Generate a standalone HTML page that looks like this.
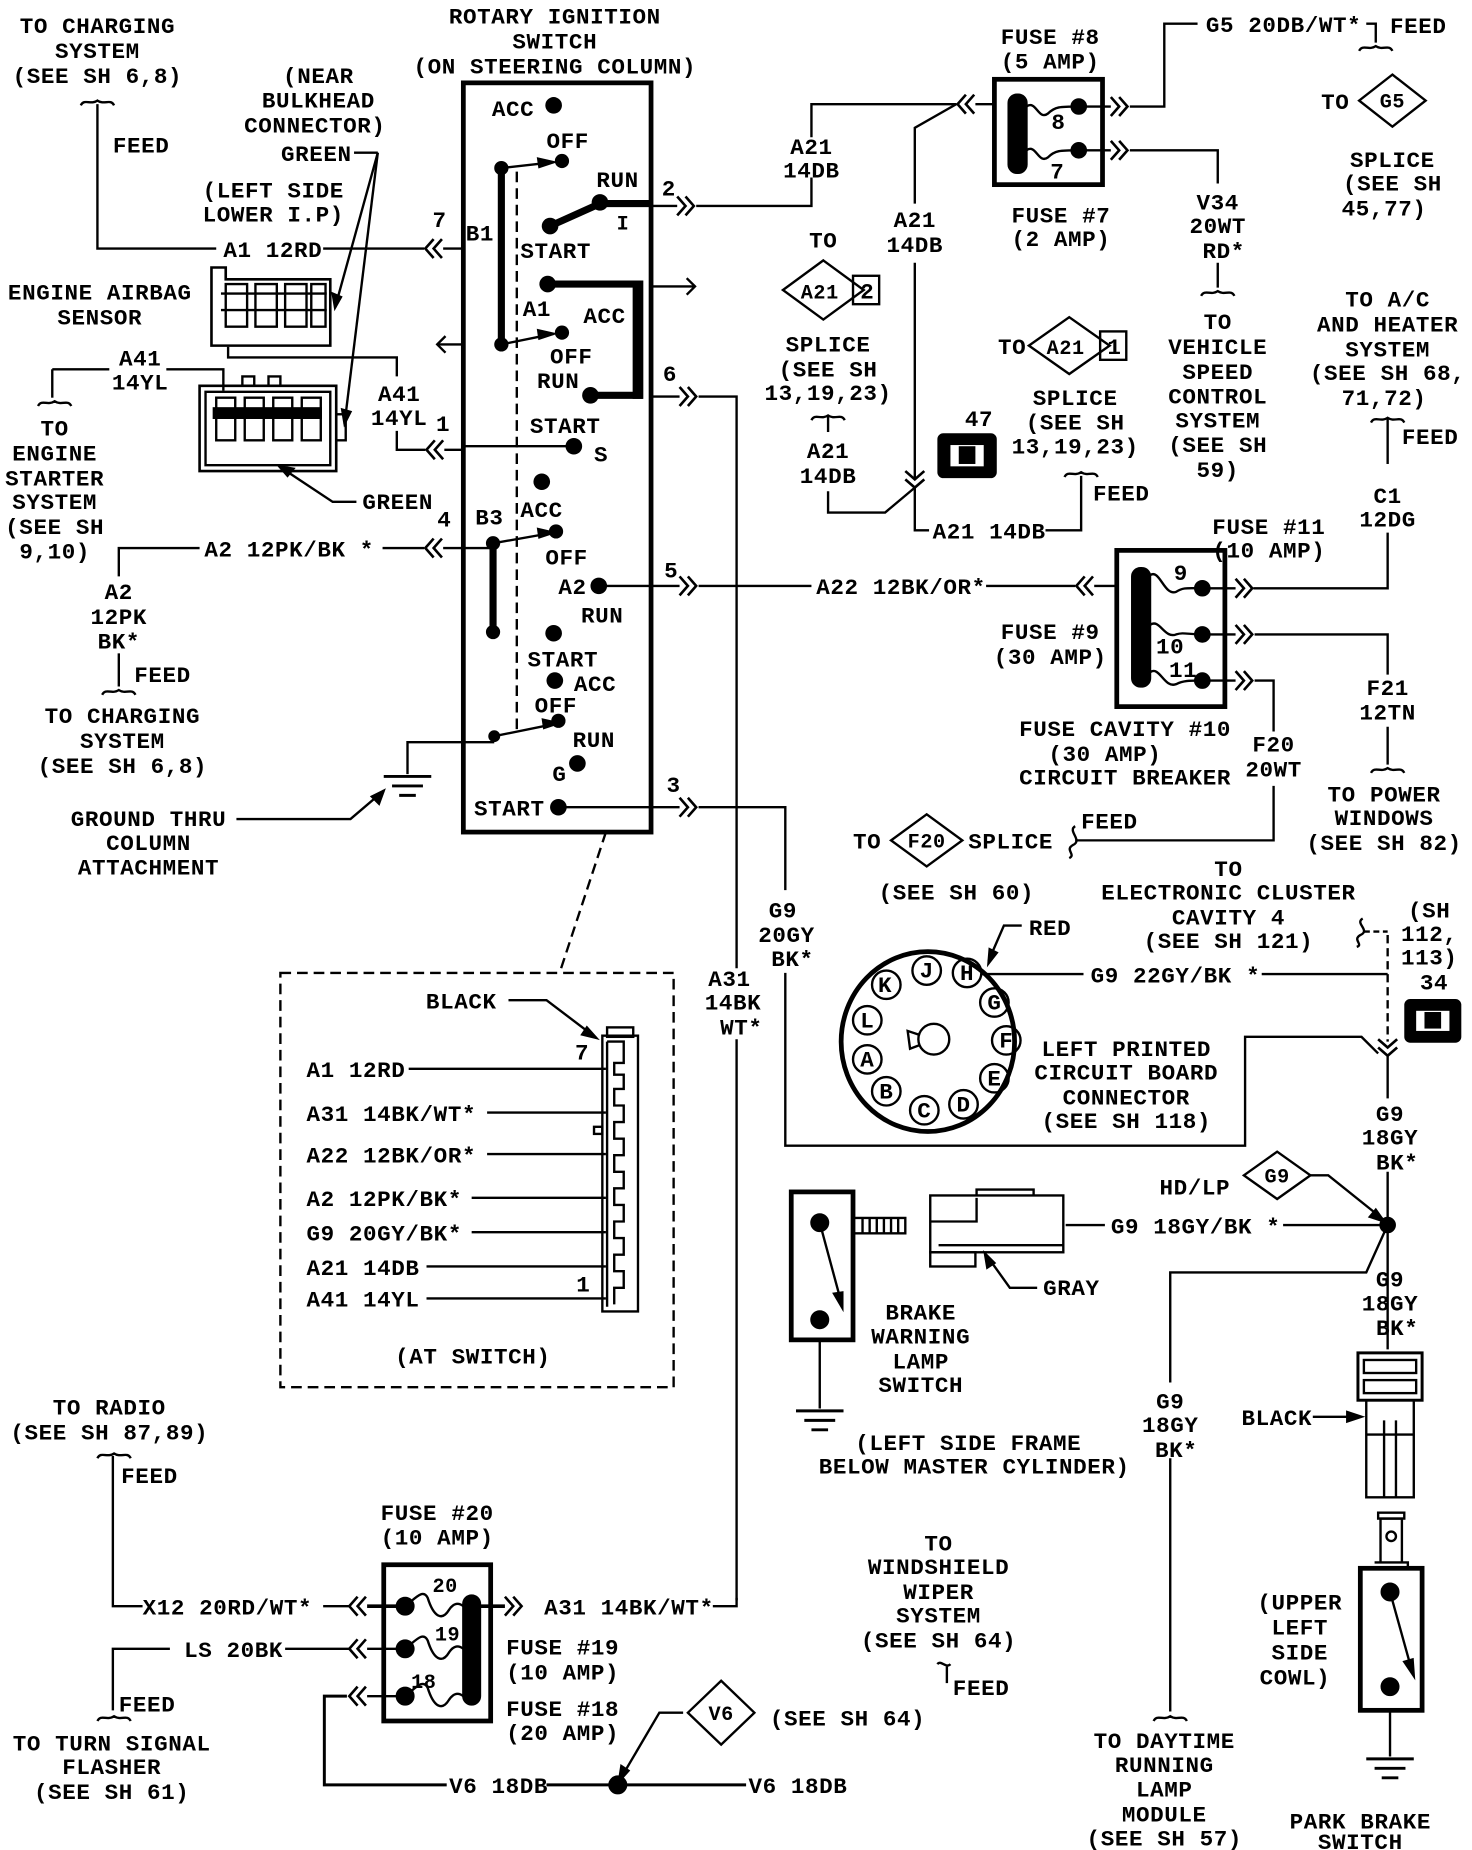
<!DOCTYPE html>
<html><head><meta charset="utf-8"><style>
html,body{margin:0;padding:0;background:#fff;}
svg{display:block;}
text{font-family:"Liberation Mono",monospace;font-size:19px;font-weight:bold;fill:#000;letter-spacing:0.5px;}
.m{text-anchor:middle;}
.e{text-anchor:end;}
</style></head><body>
<svg width="1472" height="1850" viewBox="0 0 1239 1563" preserveAspectRatio="none" xmlns="http://www.w3.org/2000/svg">
<defs>
<path id="cl" d="M7,-8 L0,0 L7,8 M14,-8 L7,0 L14,8" fill="none" stroke="#000" stroke-width="2.2"/>
<path id="cr" d="M0,-8 L7,0 L0,8 M7,-8 L14,0 L7,8" fill="none" stroke="#000" stroke-width="2.2"/>
<path id="cd" d="M-8,0 L0,7 L8,0 M-8,7 L0,14 L8,7" fill="none" stroke="#000" stroke-width="2.2"/>
<path id="tl" d="M-14,5 C-11,-1 -6,5 0,1 C6,5 11,-1 14,5" fill="none" stroke="#000" stroke-width="2"/>
<g id="gnd" stroke="#000" stroke-width="2.5"><line x1="-20" y1="0" x2="20" y2="0"/><line x1="-13" y1="8" x2="13" y2="8"/><line x1="-7" y1="16" x2="7" y2="16"/></g>
</defs>
<g fill="none" stroke="#000" stroke-width="2">

<!-- ===== left top ===== -->
<use href="#tl" x="82" y="84"/>
<polyline points="82,88 82,210 182,210"/>
<line x1="272" y1="210" x2="357" y2="210"/>
<use href="#cl" x="358" y="210"/>
<line x1="373" y1="210" x2="390" y2="210"/>
<!-- green leader -->
<line x1="298" y1="129" x2="318" y2="129"/>
<line x1="318" y1="129" x2="282" y2="260"/>
<line x1="318" y1="129" x2="290" y2="358"/>
<!-- connector 1 -->
<path d="M178,226 H190 V236 H278 V292 H178 Z" stroke-width="2.2"/>
<path d="M186,248 H275 M186,262 H275" />
<rect x="190" y="240" width="18" height="36"/><rect x="215" y="240" width="18" height="36"/><rect x="240" y="240" width="18" height="36"/><rect x="262" y="240" width="12" height="36"/>
<!-- A41 -->
<polyline points="192,293 192,302 334,302 334,318"/>
<polyline points="334,364 334,380 358,380"/>
<use href="#cl" x="359" y="380"/>
<line x1="374" y1="380" x2="390" y2="380"/>
<line x1="44" y1="312" x2="92" y2="312"/>
<polyline points="140,312 188,312 188,330"/>
<line x1="44" y1="312" x2="44" y2="336"/>
<use href="#tl" x="46" y="338"/>
<!-- connector 2 -->
<path d="M168,326 H283 V398 H168 Z" stroke-width="2.2"/>
<path d="M173,331 H278 V393 H173 Z"/>
<rect x="180" y="345" width="90" height="8" fill="#000"/>
<rect x="182" y="336" width="16" height="36"/><rect x="206" y="336" width="16" height="36"/><rect x="230" y="336" width="16" height="36"/><rect x="254" y="336" width="16" height="36"/>
<path d="M204,326 V318 H214 V326 M226,326 V318 H236 V326"/>
<rect x="283" y="350" width="8" height="22"/>
<!-- green lower -->
<polyline points="300,424 280,424 235,394"/>
<path d="M235,394 l12,2 -5,6 z" fill="#000"/>
<path d="M282,260 l-2,-12 7,3 z M290,358 l-2,-12 7,2 z" fill="#000"/>
<!-- single arrow left -->
<line x1="368" y1="291" x2="390" y2="291"/>
<path d="M375,284 L368,291 L375,298"/>
<!-- A2 -->
<polyline points="100,487 100,463 168,463"/>
<line x1="322" y1="463" x2="357" y2="463"/>
<use href="#cl" x="358" y="463"/>
<line x1="373" y1="463" x2="390" y2="463"/>
<line x1="100" y1="552" x2="100" y2="580"/>
<use href="#tl" x="100" y="582"/>
<!-- ground -->
<polyline points="416,627 343,627 343,654"/>
<use href="#gnd" x="343" y="656"/>
<polyline points="199,692 295,692 323,668"/>
<path d="M323,668 l-4,11 -6,-6 z" fill="#000"/>

<!-- ===== switch ===== -->
<rect x="390" y="70" width="158" height="633" stroke-width="4"/>
<line x1="435" y1="145" x2="435" y2="616" stroke-dasharray="9,5"/>
<line x1="422" y1="142" x2="422" y2="291" stroke-width="6"/>
<circle cx="422" cy="142" r="5" fill="#000"/><circle cx="422" cy="291" r="5" fill="#000"/>
<line x1="422" y1="142" x2="466" y2="137"/><path d="M466,137 l-13,-3 1,7 z" fill="#000"/>
<line x1="422" y1="291" x2="466" y2="282"/><path d="M466,282 l-13,-3 1,7 z" fill="#000"/>
<line x1="463" y1="191" x2="505" y2="172" stroke-width="6"/>
<line x1="505" y1="172" x2="548" y2="172" stroke-width="6"/>
<line x1="548" y1="174" x2="570" y2="174"/>
<use href="#cr" x="570" y="174"/>
<polyline points="586,174 683,174 683,150"/>
<polyline points="683,116 683,88 805,88"/>
<line x1="461" y1="240" x2="541" y2="240" stroke-width="6"/>
<line x1="537" y1="237" x2="537" y2="337" stroke-width="9"/>
<line x1="497" y1="334" x2="541" y2="334" stroke-width="6"/>
<line x1="548" y1="242" x2="585" y2="242"/>
<path d="M578,235 L585,242 L578,249"/>
<line x1="548" y1="335" x2="572" y2="335"/>
<use href="#cr" x="572" y="335"/>
<polyline points="588,335 620,335 620,818"/>
<line x1="620" y1="878" x2="620" y2="1352"/>
<line x1="390" y1="377" x2="483" y2="377"/>
<line x1="415" y1="456" x2="415" y2="534" stroke-width="6"/>
<circle cx="415" cy="459" r="5" fill="#000"/><circle cx="415" cy="534" r="5" fill="#000"/>
<line x1="390" y1="463" x2="415" y2="463"/>
<line x1="415" y1="459" x2="466" y2="450"/><path d="M466,450 l-13,-3 1,7 z" fill="#000"/>
<line x1="504" y1="495" x2="572" y2="495"/>
<use href="#cr" x="572" y="495"/>
<line x1="588" y1="495" x2="683" y2="495"/>
<line x1="830" y1="495" x2="905" y2="495"/>
<use href="#cl" x="906" y="495"/>
<line x1="921" y1="495" x2="940" y2="495"/>
<line x1="416" y1="622" x2="470" y2="611"/><path d="M470,611 l-13,-3 1,7 z" fill="#000"/>
<line x1="468" y1="682" x2="572" y2="682"/>
<use href="#cr" x="572" y="682"/>
<polyline points="588,682 661,682 661,752"/>
<polyline points="661,822 661,968 1048,968 1048,876 1146,876 1160,890"/>
<line x1="510" y1="703" x2="471" y2="822" stroke-dasharray="9,5"/>
<rect x="236" y="822" width="331" height="350" stroke-dasharray="9,5"/>

<!-- at switch connector -->
<polyline points="428,845 460,845 502,877"/>
<path d="M502,877 l-12,-3 4,-6 z" fill="#000"/>
<rect x="507" y="875" width="30" height="233" stroke-width="2"/>
<rect x="511" y="868" width="22" height="8"/>
<path d="M511,880 H525 V898 H517 V908 H525 V920 H517 V934 H525 V948 H517 V962 H525 V976 H517 V990 H525 V1004 H517 V1018 H525 V1032 H517 V1046 H525 V1060 H517 V1074 H525 V1088 H517 V1102"/>
<line x1="511" y1="880" x2="511" y2="1104"/>
<rect x="500" y="952" width="7" height="6"/>
<line x1="344" y1="903" x2="510" y2="903"/>
<line x1="410" y1="940" x2="510" y2="940"/>
<line x1="410" y1="975" x2="510" y2="975"/>
<line x1="397" y1="1012" x2="510" y2="1012"/>
<line x1="397" y1="1041" x2="510" y2="1041"/>
<line x1="359" y1="1070" x2="510" y2="1070"/>
<line x1="359" y1="1097" x2="510" y2="1097"/>

<!-- ===== top middle ===== -->
<use href="#cl" x="806" y="88"/>
<line x1="821" y1="88" x2="838" y2="88"/>
<polyline points="805,88 770,108 770,172"/>
<line x1="770" y1="222" x2="770" y2="404"/>
<use href="#cd" x="770" y="398"/>
<polyline points="770,412 770,448 782,448"/>
<polyline points="880,448 910,448 910,402"/>
<use href="#tl" x="910" y="398"/>
<polyline points="770,412 745,433 697,433 697,415"/>
<line x1="697" y1="352" x2="697" y2="365"/>
<use href="#tl" x="697" y="350"/>
<!-- fuse 8/7 -->
<rect x="837" y="67" width="91" height="89" stroke-width="4"/>
<rect x="849" y="80" width="15" height="66" rx="7" fill="#000"/>
<path d="M864,90 C872,84 874,102 882,96 C888,90 892,90 908,90"/>
<path d="M864,127 C872,121 874,139 882,133 C888,127 892,127 908,127"/>
<circle cx="908" cy="90" r="6" fill="#000"/><circle cx="908" cy="127" r="6" fill="#000"/>
<line x1="908" y1="90" x2="935" y2="90"/><use href="#cr" x="935" y="90"/>
<polyline points="951,90 980,90 980,20 1008,20"/>
<line x1="908" y1="127" x2="935" y2="127"/><use href="#cr" x="935" y="127"/>
<polyline points="951,127 1025,127 1025,155"/>
<line x1="1025" y1="222" x2="1025" y2="243"/>
<use href="#tl" x="1025" y="245"/>
<polyline points="1150,20 1158,20 1158,36"/>
<use href="#tl" x="1158" y="38"/>
<!-- splice diamonds -->
<path d="M693,220 L727,245 L693,270 L659,245 Z"/>
<rect x="718" y="233" width="22" height="24"/>
<path d="M900,268 L934,292 L900,316 L866,292 Z"/>
<rect x="926" y="280" width="22" height="24"/>
<path d="M1172,63 L1200,85 L1172,107 L1144,85 Z"/>
<!-- 47 connector -->
<rect x="790" y="367" width="48" height="36" rx="4" fill="#000"/>
<rect x="799" y="375" width="30" height="20" fill="#fff"/>
<rect x="808" y="378" width="12" height="13" fill="#000"/>
<!-- A/C -->
<use href="#tl" x="1168" y="352"/>
<line x1="1168" y1="354" x2="1168" y2="392"/>
<polyline points="1168,450 1168,497 1055,497"/>
<!-- fuse 9 -->
<rect x="940" y="465" width="91" height="132" stroke-width="4"/>
<rect x="953" y="480" width="15" height="100" rx="7" fill="#000"/>
<path d="M968,486 C976,480 980,504 990,500 C996,496 1000,497 1012,497"/>
<path d="M968,528 C976,522 980,540 990,536 C996,534 1000,536 1012,536"/>
<path d="M968,568 C976,562 980,582 990,578 C996,575 1000,575 1012,575"/>
<circle cx="1012" cy="497" r="6" fill="#000"/><circle cx="1012" cy="536" r="6" fill="#000"/><circle cx="1012" cy="575" r="6" fill="#000"/>
<line x1="1012" y1="497" x2="1040" y2="497"/><use href="#cr" x="1040" y="497"/>
<line x1="1012" y1="536" x2="1040" y2="536"/><use href="#cr" x="1040" y="536"/>
<polyline points="1056,536 1168,536 1168,570"/>
<line x1="1168" y1="614" x2="1168" y2="646"/>
<use href="#tl" x="1168" y="648"/>
<line x1="1012" y1="575" x2="1040" y2="575"/><use href="#cr" x="1040" y="575"/>
<polyline points="1056,575 1072,575 1072,618"/>
<polyline points="1072,664 1072,710 905,710"/>
<path d="M905,698 C898,702 912,710 903,714 C896,718 906,722 900,725"/>
<path d="M780,688 L810,710 L780,732 L750,710 Z"/>

<!-- ===== ignition round connector ===== -->
<ellipse cx="781" cy="880" rx="73" ry="76" stroke-width="4"/>
<g stroke-width="2">
<circle cx="746" cy="832" r="12"/><circle cx="780" cy="820" r="12"/><circle cx="814" cy="822" r="12"/>
<circle cx="837" cy="847" r="12"/><circle cx="847" cy="879" r="12"/><circle cx="837" cy="911" r="12"/>
<circle cx="811" cy="933" r="12"/><circle cx="778" cy="938" r="12"/><circle cx="746" cy="922" r="12"/>
<circle cx="730" cy="895" r="12"/><circle cx="730" cy="862" r="12"/>
<circle cx="786" cy="878" r="13"/><path d="M773,874 L764,871 L766,886 L774,883"/>
</g>
<polyline points="860,782 845,782 832,812"/>
<path d="M832,814 l1,-12 6,3 z" fill="#000"/>
<line x1="826" y1="823" x2="912" y2="823"/>
<line x1="1062" y1="823" x2="1168" y2="823"/>
<line x1="1168" y1="790" x2="1168" y2="880" stroke-dasharray="7,4"/>
<line x1="1148" y1="787" x2="1168" y2="787" stroke-dasharray="5,3"/>
<path d="M1147,776 C1140,780 1154,786 1145,790 C1138,794 1148,798 1142,800"/>
<use href="#cd" x="1168" y="878"/>
<line x1="1168" y1="892" x2="1168" y2="928"/>
<line x1="1168" y1="990" x2="1168" y2="1140"/>
<rect x="1183" y="845" width="46" height="35" rx="4" fill="#000"/>
<rect x="1191" y="853" width="30" height="19" fill="#fff"/>
<rect x="1200" y="856" width="12" height="12" fill="#000"/>
<circle cx="1168" cy="1035" r="6" fill="#000"/>
<path d="M1075,973 L1103,993 L1075,1013 L1047,993 Z"/>
<polyline points="1103,993 1118,993 1164,1030"/>
<path d="M1165,1032 l-12,-4 5,-6 z" fill="#000"/>
<line x1="897" y1="1035" x2="930" y2="1035"/>
<line x1="1080" y1="1035" x2="1168" y2="1035"/>
<polyline points="1168,1035 1150,1075 985,1075 985,1168"/>
<line x1="985" y1="1232" x2="985" y2="1446"/>
<use href="#tl" x="985" y="1449"/>
<!-- gray plug -->
<rect x="783" y="1010" width="112" height="48"/>
<rect x="783" y="1058" width="38" height="12"/>
<path d="M783,1032 H822 V1012 M822,1010 V1005 H870 V1010"/>
<line x1="790" y1="1052" x2="895" y2="1052"/>
<polyline points="873,1088 850,1088 830,1060"/>
<path d="M829,1059 l2,12 6,-4 z" fill="#000"/>
<!-- brake switch -->
<rect x="666" y="1007" width="52" height="125" stroke-width="4"/>
<circle cx="690" cy="1033" r="7" fill="#000"/><circle cx="690" cy="1115" r="7" fill="#000"/>
<line x1="690" y1="1033" x2="708" y2="1100"/>
<path d="M709,1105 l-7,-12 7,-1 z" fill="#000"/>
<rect x="718" y="1029" width="44" height="13"/>
<path d="M726,1029 V1042 M732,1029 V1042 M738,1029 V1042 M744,1029 V1042 M750,1029 V1042 M756,1029 V1042"/>
<line x1="690" y1="1132" x2="690" y2="1190"/>
<use href="#gnd" x="690" y="1192"/>
<!-- black connector right -->
<rect x="1143" y="1143" width="54" height="40" stroke-width="2.5"/>
<rect x="1148" y="1149" width="44" height="11"/><rect x="1148" y="1166" width="44" height="11"/>
<path d="M1150,1183 V1265 H1190 V1183 M1150,1212 H1190 M1165,1200 V1265 M1175,1200 V1265"/>
<line x1="1105" y1="1197" x2="1140" y2="1197"/>
<path d="M1146,1197 l-12,-4 0,8 z" fill="#000"/>
<!-- park brake -->
<path d="M1162,1320 V1283 H1180 V1320"/>
<rect x="1160" y="1278" width="22" height="5"/>
<circle cx="1171" cy="1298" r="4"/>
<path d="M1157,1320 H1185 V1325"/>
<rect x="1145" y="1325" width="52" height="120" stroke-width="4"/>
<circle cx="1170" cy="1345" r="7" fill="#000"/><circle cx="1170" cy="1425" r="7" fill="#000"/>
<line x1="1170" y1="1345" x2="1188" y2="1410"/>
<path d="M1190,1416 l-8,-12 7,-2 z" fill="#000"/>
<line x1="1170" y1="1445" x2="1170" y2="1484"/>
<use href="#gnd" x="1170" y="1486"/>

<!-- ===== bottom left ===== -->
<use href="#tl" x="96" y="1227"/>
<polyline points="95,1230 95,1357 120,1357"/>
<line x1="272" y1="1357" x2="294" y2="1357"/>
<use href="#cl" x="294" y="1357"/>
<line x1="309" y1="1357" x2="341" y2="1357" stroke-width="3"/>
<polyline points="143,1393 95,1393 95,1445"/>
<use href="#tl" x="96" y="1449"/>
<line x1="240" y1="1393" x2="294" y2="1393"/>
<use href="#cl" x="294" y="1393"/>
<line x1="309" y1="1393" x2="341" y2="1393"/>
<use href="#cl" x="294" y="1433"/>
<line x1="309" y1="1433" x2="341" y2="1433"/>
<polyline points="292,1433 273,1433 273,1508 376,1508" stroke-width="2.5"/>
<line x1="460" y1="1508" x2="628" y2="1508" stroke-width="2.5"/>
<circle cx="520" cy="1508" r="7" fill="#000"/>
<polyline points="575,1447 555,1447 521,1505"/>
<path d="M521,1505 l2,-13 6,4 z" fill="#000"/>
<path d="M607,1420 L635,1447 L607,1474 L579,1447 Z"/>
<rect x="323" y="1322" width="90" height="132" stroke-width="4"/>
<rect x="390" y="1348" width="14" height="92" rx="7" fill="#000"/>
<path d="M341,1357 C350,1350 356,1342 360,1350 C365,1366 372,1370 378,1360 C382,1354 386,1354 390,1357"/>
<path d="M341,1393 C350,1386 356,1378 360,1386 C365,1402 372,1406 378,1396 C382,1390 386,1390 390,1393"/>
<path d="M341,1433 C350,1426 356,1418 360,1426 C365,1442 372,1446 378,1436 C382,1430 386,1430 390,1433"/>
<circle cx="341" cy="1357" r="7" fill="#000"/><circle cx="341" cy="1393" r="7" fill="#000"/><circle cx="341" cy="1433" r="7" fill="#000"/>
<line x1="404" y1="1357" x2="425" y2="1357" stroke-width="3"/>
<use href="#cr" x="425" y="1357"/>
<polyline points="600,1357 620,1357 620,1350"/>
<polyline points="797,1408 797,1422"/>
<path d="M789,1406 C792,1402 796,1410 800,1406"/>
</g>

<!-- ======= TEXT ======= -->
<g>
<text class="m" x="82" y="28">TO CHARGING</text>
<text class="m" x="82" y="49">SYSTEM</text>
<text class="m" x="82" y="70">(SEE SH 6,8)</text>
<text x="95" y="129">FEED</text>
<text class="m" x="268" y="70">(NEAR</text>
<text class="m" x="268" y="91">BULKHEAD</text>
<text class="m" x="265" y="112">CONNECTOR)</text>
<text class="e" x="296" y="136">GREEN</text>
<text class="m" x="230" y="167">(LEFT SIDE</text>
<text class="m" x="230" y="187">LOWER I.P)</text>
<text x="188" y="217">A1 12RD</text>
<text x="364" y="192">7</text>
<text x="392" y="203">B1</text>
<text class="m" x="84" y="253">ENGINE AIRBAG</text>
<text class="m" x="84" y="274">SENSOR</text>
<text class="m" x="118" y="309">A41</text>
<text class="m" x="118" y="329">14YL</text>
<text class="m" x="336" y="339">A41</text>
<text class="m" x="336" y="359">14YL</text>
<text x="367" y="364">1</text>
<text class="m" x="46" y="368">TO</text>
<text class="m" x="46" y="389">ENGINE</text>
<text class="m" x="46" y="410">STARTER</text>
<text class="m" x="46" y="430">SYSTEM</text>
<text class="m" x="46" y="451">(SEE SH</text>
<text class="m" x="46" y="472">9,10)</text>
<text x="305" y="430">GREEN</text>
<text x="368" y="445">4</text>
<text x="172" y="470">A2 12PK/BK *</text>
<text class="m" x="100" y="506">A2</text>
<text class="m" x="100" y="527">12PK</text>
<text class="m" x="100" y="548">BK*</text>
<text x="113" y="576">FEED</text>
<text class="m" x="103" y="611">TO CHARGING</text>
<text class="m" x="103" y="632">SYSTEM</text>
<text class="m" x="103" y="653">(SEE SH 6,8)</text>
<text class="m" x="125" y="698">GROUND THRU</text>
<text class="m" x="125" y="718">COLUMN</text>
<text class="m" x="125" y="739">ATTACHMENT</text>

<text class="m" x="467" y="20">ROTARY IGNITION</text>
<text class="m" x="467" y="41">SWITCH</text>
<text class="m" x="467" y="62">(ON STEERING COLUMN)</text>
<text x="414" y="98">ACC</text>
<text x="460" y="125">OFF</text>
<text x="502" y="158">RUN</text>
<text x="557" y="165">2</text>
<text x="519" y="194" style="font-size:17px">I</text>
<text x="438" y="218">START</text>
<text x="440" y="267">A1</text>
<text x="491" y="273">ACC</text>
<text x="463" y="307">OFF</text>
<text x="452" y="328">RUN</text>
<text x="558" y="322">6</text>
<text x="446" y="366">START</text>
<text x="500" y="390">S</text>
<text x="438" y="437">ACC</text>
<text x="400" y="443">B3</text>
<text x="459" y="477">OFF</text>
<text x="470" y="502">A2</text>
<text x="559" y="488">5</text>
<text x="489" y="526">RUN</text>
<text x="444" y="563">START</text>
<text x="483" y="584">ACC</text>
<text x="450" y="602">OFF</text>
<text x="482" y="631">RUN</text>
<text x="465" y="660">G</text>
<text x="399" y="689">START</text>
<text x="561" y="669">3</text>
<circle cx="466" cy="89" r="7"/>
<circle cx="473" cy="136" r="6"/>
<circle cx="505" cy="171" r="7"/>
<circle cx="463" cy="191" r="7"/>
<circle cx="461" cy="240" r="7"/>
<circle cx="473" cy="281" r="6"/>
<circle cx="497" cy="334" r="7"/>
<circle cx="483" cy="377" r="7"/>
<circle cx="456" cy="407" r="7"/>
<circle cx="468" cy="449" r="6"/>
<circle cx="504" cy="495" r="7"/>
<circle cx="466" cy="535" r="7"/>
<circle cx="467" cy="575" r="7"/>
<circle cx="470" cy="609" r="6"/>
<circle cx="416" cy="622" r="5"/>
<circle cx="486" cy="645" r="7"/>
<circle cx="470" cy="682" r="7"/>

<text class="m" x="683" y="130">A21</text>
<text class="m" x="683" y="150">14DB</text>
<text class="m" x="770" y="192">A21</text>
<text class="m" x="770" y="213">14DB</text>
<text class="m" x="693" y="209">TO</text>
<text class="m" x="690" y="252" style="font-size:17px">A21</text>
<text class="m" x="730" y="252">2</text>
<text class="m" x="697" y="297">SPLICE</text>
<text class="m" x="697" y="318">(SEE SH</text>
<text class="m" x="697" y="338">13,19,23)</text>
<text class="m" x="697" y="387">A21</text>
<text class="m" x="697" y="408">14DB</text>
<text x="785" y="455">A21 14DB</text>
<text x="840" y="299">TO</text>
<text class="m" x="897" y="299" style="font-size:17px">A21</text>
<text class="m" x="938" y="299">1</text>
<text class="m" x="905" y="342">SPLICE</text>
<text class="m" x="905" y="363">(SEE SH</text>
<text class="m" x="905" y="383">13,19,23)</text>
<text x="920" y="423">FEED</text>
<text class="m" x="824" y="360">47</text>
<text class="m" x="884" y="37">FUSE #8</text>
<text class="m" x="884" y="58">(5 AMP)</text>
<text x="885" y="109">8</text>
<text x="884" y="151">7</text>
<text class="m" x="893" y="188">FUSE #7</text>
<text class="m" x="893" y="208">(2 AMP)</text>
<text x="1015" y="27">G5 20DB/WT*</text>
<text x="1170" y="28">FEED</text>
<text x="1112" y="92">TO</text>
<text class="m" x="1172" y="91" style="font-size:17px">G5</text>
<text class="m" x="1172" y="141">SPLICE</text>
<text class="m" x="1172" y="161">(SEE SH</text>
<text class="m" x="1165" y="182">45,77)</text>
<text class="m" x="1025" y="177">V34</text>
<text class="m" x="1025" y="197">20WT</text>
<text class="m" x="1030" y="218">RD*</text>
<text class="m" x="1025" y="278">TO</text>
<text class="m" x="1025" y="299">VEHICLE</text>
<text class="m" x="1025" y="320">SPEED</text>
<text class="m" x="1025" y="341">CONTROL</text>
<text class="m" x="1025" y="361">SYSTEM</text>
<text class="m" x="1025" y="382">(SEE SH</text>
<text class="m" x="1025" y="403">59)</text>
<text class="m" x="1168" y="259">TO A/C</text>
<text class="m" x="1168" y="280">AND HEATER</text>
<text class="m" x="1168" y="301">SYSTEM</text>
<text class="m" x="1168" y="321">(SEE SH 68,</text>
<text class="m" x="1165" y="342">71,72)</text>
<text x="1180" y="375">FEED</text>
<text class="m" x="1168" y="425">C1</text>
<text class="m" x="1168" y="445">12DG</text>
<text class="m" x="1068" y="451">FUSE #11</text>
<text class="m" x="1068" y="471">(10 AMP)</text>
<text x="687" y="502">A22 12BK/OR*</text>
<text class="m" x="884" y="540">FUSE #9</text>
<text class="m" x="884" y="561">(30 AMP)</text>
<text x="988" y="490">9</text>
<text x="973" y="552">10</text>
<text x="984" y="572">11</text>
<text class="m" x="947" y="622">FUSE CAVITY #10</text>
<text class="m" x="930" y="643">(30 AMP)</text>
<text class="m" x="947" y="663">CIRCUIT BREAKER</text>
<text class="m" x="1072" y="635">F20</text>
<text class="m" x="1072" y="656">20WT</text>
<text class="m" x="1168" y="587">F21</text>
<text class="m" x="1168" y="608">12TN</text>
<text class="m" x="1165" y="677">TO POWER</text>
<text class="m" x="1165" y="697">WINDOWS</text>
<text class="m" x="1165" y="718">(SEE SH 82)</text>
<text x="910" y="700">FEED</text>
<text x="815" y="717">SPLICE</text>
<text x="718" y="717">TO</text>
<text class="m" x="780" y="716" style="font-size:17px">F20</text>
<text class="m" x="805" y="760">(SEE SH 60)</text>
<text class="m" x="1034" y="740">TO</text>
<text class="m" x="1034" y="760">ELECTRONIC CLUSTER</text>
<text class="m" x="1034" y="781">CAVITY 4</text>
<text class="m" x="1034" y="801">(SEE SH 121)</text>
<text class="m" x="1203" y="775">(SH</text>
<text class="m" x="1203" y="795">112,</text>
<text class="m" x="1203" y="815">113)</text>
<text class="m" x="1207" y="836">34</text>
<text x="866" y="790">RED</text>
<text x="918" y="830">G9 22GY/BK *</text>
<text class="m" x="948" y="892">LEFT PRINTED</text>
<text class="m" x="948" y="912">CIRCUIT BOARD</text>
<text class="m" x="948" y="933">CONNECTOR</text>
<text class="m" x="948" y="953">(SEE SH 118)</text>
<text class="m" x="659" y="775">G9</text>
<text class="m" x="662" y="796">20GY</text>
<text class="m" x="667" y="816">BK*</text>
<text class="m" x="614" y="833">A31</text>
<text class="m" x="617" y="853">14BK</text>
<text class="m" x="624" y="874">WT*</text>
<g style="font-size:15px">
<text class="m" x="745" y="838">K</text><text class="m" x="780" y="826">J</text><text class="m" x="814" y="828">H</text>
<text class="m" x="837" y="853">G</text><text class="m" x="847" y="885">F</text><text class="m" x="837" y="917">E</text>
<text class="m" x="811" y="939">D</text><text class="m" x="778" y="944">C</text><text class="m" x="746" y="928">B</text>
<text class="m" x="730" y="901">A</text><text class="m" x="730" y="868">L</text>
</g>
<text class="m" x="1170" y="947">G9</text>
<text class="m" x="1170" y="967">18GY</text>
<text class="m" x="1176" y="988">BK*</text>
<text x="976" y="1009">HD/LP</text>
<text class="m" x="1075" y="999" style="font-size:17px">G9</text>
<text x="935" y="1042">G9 18GY/BK *</text>
<text x="878" y="1094">GRAY</text>
<text class="m" x="1170" y="1087">G9</text>
<text class="m" x="1170" y="1107">18GY</text>
<text class="m" x="1176" y="1128">BK*</text>
<text x="1045" y="1204">BLACK</text>
<text class="m" x="775" y="1115">BRAKE</text>
<text class="m" x="775" y="1135">WARNING</text>
<text class="m" x="775" y="1156">LAMP</text>
<text class="m" x="775" y="1176">SWITCH</text>
<text class="m" x="815" y="1225">(LEFT SIDE FRAME</text>
<text class="m" x="820" y="1245">BELOW MASTER CYLINDER)</text>
<text class="m" x="985" y="1190">G9</text>
<text class="m" x="985" y="1210">18GY</text>
<text class="m" x="990" y="1231">BK*</text>
<text class="m" x="1094" y="1360">(UPPER</text>
<text class="m" x="1094" y="1381">LEFT</text>
<text class="m" x="1094" y="1402">SIDE</text>
<text class="m" x="1090" y="1423">COWL)</text>
<text class="m" x="980" y="1477">TO DAYTIME</text>
<text class="m" x="980" y="1497">RUNNING</text>
<text class="m" x="980" y="1518">LAMP</text>
<text class="m" x="980" y="1539">MODULE</text>
<text class="m" x="980" y="1559">(SEE SH 57)</text>
<text class="m" x="1145" y="1545">PARK BRAKE</text>
<text class="m" x="1145" y="1562">SWITCH</text>

<text class="e" x="418" y="852">BLACK</text>
<text x="484" y="895">7</text>
<text x="258" y="910">A1 12RD</text>
<text x="258" y="947">A31 14BK/WT*</text>
<text x="258" y="982">A22 12BK/OR*</text>
<text x="258" y="1019">A2 12PK/BK*</text>
<text x="258" y="1048">G9 20GY/BK*</text>
<text x="258" y="1077">A21 14DB</text>
<text x="258" y="1104">A41 14YL</text>
<text x="485" y="1091">1</text>
<text class="m" x="398" y="1152">(AT SWITCH)</text>

<text class="m" x="92" y="1195">TO RADIO</text>
<text class="m" x="92" y="1216">(SEE SH 87,89)</text>
<text x="102" y="1253">FEED</text>
<text x="120" y="1364">X12 20RD/WT*</text>
<text class="m" x="368" y="1284">FUSE #20</text>
<text class="m" x="368" y="1305">(10 AMP)</text>
<text x="364" y="1345" style="font-size:17px">20</text>
<text x="366" y="1386" style="font-size:17px">19</text>
<text x="346" y="1426" style="font-size:17px">18</text>
<text x="458" y="1364">A31 14BK/WT*</text>
<text x="155" y="1400">LS 20BK</text>
<text x="426" y="1398">FUSE #19</text>
<text x="426" y="1419">(10 AMP)</text>
<text x="426" y="1450">FUSE #18</text>
<text x="426" y="1470">(20 AMP)</text>
<text x="100" y="1446">FEED</text>
<text class="m" x="94" y="1479">TO TURN SIGNAL</text>
<text class="m" x="94" y="1499">FLASHER</text>
<text class="m" x="94" y="1520">(SEE SH 61)</text>
<text x="378" y="1515">V6 18DB</text>
<text x="630" y="1515">V6 18DB</text>
<text class="m" x="607" y="1453" style="font-size:17px">V6</text>
<text x="648" y="1458">(SEE SH 64)</text>
<text class="m" x="790" y="1310">TO</text>
<text class="m" x="790" y="1330">WINDSHIELD</text>
<text class="m" x="790" y="1351">WIPER</text>
<text class="m" x="790" y="1371">SYSTEM</text>
<text class="m" x="790" y="1392">(SEE SH 64)</text>
<text x="802" y="1432">FEED</text>
</g>
</svg>
</body></html>
